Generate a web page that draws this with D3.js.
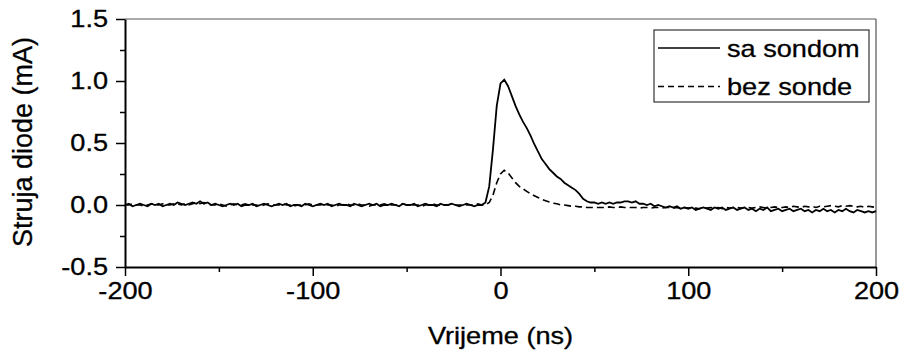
<!DOCTYPE html>
<html>
<head>
<meta charset="utf-8">
<script src="https://cdn.jsdelivr.net/npm/d3@7"></script>
<style>
  body { margin: 0; background: #fff; }
  text { font-family: "Liberation Sans", Arial, sans-serif; fill: #000; }
</style>
</head>
<body>
<div id="container"></div>
<script>
// sample times in ns, one reading every 2 ns
var times = d3.range(-200, 201, 2);

// sa sondom (mA)
var saSondom = [
  0.00, 0.01, -0.01, 0.00, 0.01, 0.00, -0.01, 0.01, 0.00, 0.01,
  -0.01, 0.00, 0.01, 0.00, 0.02, 0.01, 0.00, 0.01, 0.02, 0.01,
  0.03, 0.01, 0.02, 0.00, 0.01, 0.00, -0.01, 0.00, 0.01, 0.00,
  0.01, -0.01, 0.00, 0.00, 0.01, -0.01, 0.00, 0.01, 0.00, -0.01,
  0.00, 0.01, 0.00, 0.01, -0.01, 0.00, 0.00, -0.01, 0.01, 0.00,
  -0.01, 0.00, 0.01, 0.00, 0.01, -0.01, 0.00, 0.01, 0.00, 0.00,
  -0.01, 0.01, 0.00, -0.01, 0.00, 0.01, 0.00, 0.01, -0.01, 0.00,
  0.00, 0.01, 0.00, -0.01, 0.01, 0.00, 0.00, 0.01, -0.01, 0.00,
  0.01, 0.00, 0.00, -0.01, 0.01, 0.00, 0.00, 0.01, 0.00, -0.01,
  0.00, 0.01, 0.00, -0.01, 0.00, 0.00,
  0.02, 0.15, 0.45, 0.80, 0.98, 1.01, 0.96, 0.88, 0.80, 0.73,
  0.67, 0.62, 0.56, 0.49, 0.43, 0.37, 0.33, 0.29, 0.26, 0.23,
  0.21, 0.18, 0.16, 0.14, 0.12, 0.09, 0.05, 0.03, 0.02, 0.02,
  0.01, 0.02, 0.01, 0.02, 0.01, 0.02, 0.02, 0.03, 0.03, 0.02,
  0.03, 0.01, 0.01, 0.00, 0.01, -0.01, 0.00, -0.01, -0.02, -0.01,
  -0.02, -0.01, -0.03, -0.02, -0.03, -0.02, -0.04, -0.03, -0.02, -0.03,
  -0.04, -0.02, -0.03, -0.02, -0.04, -0.03, -0.02, -0.04, -0.03, -0.02,
  -0.04, -0.03, -0.05, -0.03, -0.04, -0.02, -0.05, -0.04, -0.03, -0.05,
  -0.04, -0.03, -0.05, -0.04, -0.03, -0.05, -0.04, -0.06, -0.04, -0.05,
  -0.03, -0.05, -0.04, -0.06, -0.04, -0.05, -0.03, -0.05, -0.06, -0.04,
  -0.05, -0.06, -0.05, -0.06, -0.05
];

// bez sonde (mA)
var bezSonde = [
  0.00, 0.00, 0.01, 0.00, 0.00, -0.01, 0.00, 0.01, 0.00, 0.00,
  0.01, 0.00, 0.00, 0.01, 0.01, 0.00, 0.01, 0.00, 0.01, 0.02,
  0.01, 0.02, 0.01, 0.00, 0.00, 0.01, 0.00, -0.01, 0.00, 0.01,
  0.00, 0.00, 0.01, 0.00, 0.00, 0.00, -0.01, 0.00, 0.01, 0.00,
  0.00, 0.00, 0.01, 0.00, 0.00, -0.01, 0.00, 0.00, 0.00, 0.01,
  0.00, 0.00, 0.00, 0.01, 0.00, 0.00, -0.01, 0.00, 0.00, 0.01,
  0.00, 0.00, 0.01, 0.00, 0.00, -0.01, 0.00, 0.00, 0.00, 0.01,
  0.00, 0.00, 0.00, 0.00, 0.01, 0.00, 0.00, 0.00, 0.00, -0.01,
  0.00, 0.00, 0.01, 0.00, 0.00, 0.00, 0.00, 0.01, 0.00, 0.00,
  0.00, 0.00, 0.00, 0.00, 0.01, 0.00,
  0.00, 0.02, 0.08, 0.18, 0.25, 0.28, 0.26, 0.22, 0.18, 0.15,
  0.13, 0.11, 0.09, 0.075, 0.06, 0.045, 0.035, 0.025, 0.015, 0.01,
  0.00, 0.00, -0.005, -0.01, -0.01, -0.015, -0.015, -0.02, -0.02, -0.02,
  -0.02, -0.02, -0.02, -0.015, -0.02, -0.02, -0.015, -0.02, -0.02, -0.02,
  -0.02, -0.025, -0.02, -0.02, -0.025, -0.02, -0.02, -0.025, -0.02, -0.02,
  -0.025, -0.02, -0.03, -0.02, -0.025, -0.02, -0.025, -0.03, -0.02, -0.025,
  -0.02, -0.025, -0.02, -0.03, -0.02, -0.025, -0.02, -0.02, -0.025, -0.02,
  -0.02, -0.025, -0.02, -0.015, -0.02, -0.025, -0.02, -0.015, -0.02, -0.02,
  -0.015, -0.02, -0.01, -0.015, -0.02, -0.01, -0.015, -0.01, -0.02, -0.01,
  -0.015, -0.01, -0.005, -0.01, -0.015, -0.005, -0.01, -0.005, -0.01, -0.015,
  -0.01, -0.02, -0.01, -0.015, -0.02
];

var xMajor = [-200, -100, 0, 100, 200],
    xMinor = [-150, -50, 50, 150],
    yMajor = [-0.5, 0, 0.5, 1.0, 1.5],
    yMinor = [-0.25, 0.25, 0.75, 1.25];

var seriesNames = ['sa sondom', 'bez sonde'];

var width = 901,
    height = 356,
    plotLeft = 125, plotRight = 876, plotTop = 19, plotBottom = 267,
    stretch = 1.18,   // text in the original is a bit wide
    fontSize = 23;

var svg = d3.select('#container')
    .append('svg')
    .attr('width', width)
    .attr('height', height);

var x = d3.scaleLinear().domain([-200, 200]).range([plotLeft, plotRight]);
var y = d3.scaleLinear().domain([-0.5, 1.5]).range([plotBottom, plotTop]);

// frame on top and right
svg.append('line')
    .attr('x1', plotLeft).attr('x2', plotRight).attr('y1', plotTop).attr('y2', plotTop)
    .attr('stroke', '#555').attr('stroke-width', 1.2);
svg.append('line')
    .attr('x1', plotRight).attr('x2', plotRight).attr('y1', plotTop).attr('y2', plotBottom)
    .attr('stroke', '#555').attr('stroke-width', 1.2);

// minor ticks
svg.append('g')
    .attr('transform', 'translate(0,' + plotBottom + ')')
    .call(d3.axisBottom(x).tickValues(xMinor).tickSize(5).tickFormat(''))
    .call(function(g) { g.select('.domain').remove(); })
    .selectAll('line').attr('stroke-width', 1.5);
svg.append('g')
    .attr('transform', 'translate(' + plotLeft + ',0)')
    .call(d3.axisLeft(y).tickValues(yMinor).tickSize(5).tickFormat(''))
    .call(function(g) { g.select('.domain').remove(); })
    .selectAll('line').attr('stroke-width', 1.5);

// major axes
var xAxis = svg.append('g')
    .attr('transform', 'translate(0,' + plotBottom + ')')
    .call(d3.axisBottom(x).tickValues(xMajor).tickSize(9).tickSizeOuter(0)
        .tickFormat(function(d) { return String(d); }));
xAxis.select('.domain').attr('stroke-width', 2);
xAxis.selectAll('.tick line').attr('stroke-width', 1.5);
xAxis.selectAll('.tick text')
    .attr('font-size', fontSize)
    .attr('font-family', '"Liberation Sans", Arial, sans-serif')
    .attr('fill', '#000')
    .attr('stroke', '#000').attr('stroke-width', 0.3)
    .attr('y', 32).attr('dy', 0)
    .attr('transform', 'scale(' + stretch + ',1)');

var yAxis = svg.append('g')
    .attr('transform', 'translate(' + plotLeft + ',0)')
    .call(d3.axisLeft(y).tickValues(yMajor).tickSize(9).tickSizeOuter(0)
        .tickFormat(function(d) { return d.toFixed(1); }));
yAxis.select('.domain').attr('stroke-width', 2);
yAxis.selectAll('.tick line').attr('stroke-width', 1.5);
yAxis.selectAll('.tick text')
    .attr('font-size', fontSize)
    .attr('font-family', '"Liberation Sans", Arial, sans-serif')
    .attr('fill', '#000')
    .attr('stroke', '#000').attr('stroke-width', 0.3)
    .attr('x', -17 / stretch)
    .attr('transform', 'scale(' + stretch + ',1)');

// axis titles
svg.append('text')
    .attr('transform', 'translate(' + (plotLeft + plotRight) / 2 + ',344) scale(' + stretch + ',1)')
    .attr('text-anchor', 'middle')
    .attr('font-size', fontSize)
    .attr('stroke', '#000').attr('stroke-width', 0.3)
    .text('Vrijeme (ns)');
svg.append('text')
    .attr('transform', 'translate(32,142) rotate(-90)')
    .attr('text-anchor', 'middle')
    .attr('font-size', 27)
    .attr('stroke', '#000').attr('stroke-width', 0.3)
    .text('Struja diode (mA)');

// curves
var line = d3.line()
    .x(function(d) { return x(d[0]); })
    .y(function(d) { return y(d[1]); });

svg.append('path')
    .datum(d3.zip(times, bezSonde))
    .attr('d', line)
    .attr('fill', 'none')
    .attr('stroke', '#000')
    .attr('stroke-width', 1.6)
    .attr('stroke-dasharray', '7,4');

svg.append('path')
    .datum(d3.zip(times, saSondom))
    .attr('d', line)
    .attr('fill', 'none')
    .attr('stroke', '#000')
    .attr('stroke-width', 1.8);

// legend
var legend = svg.append('g');
legend.append('rect')
    .attr('x', 654).attr('y', 30)
    .attr('width', 215).attr('height', 72)
    .attr('fill', '#fff')
    .attr('stroke', '#333').attr('stroke-width', 1.2);

var rows = legend.selectAll('g.row')
    .data(seriesNames)
    .enter()
    .append('g')
    .attr('class', 'row')
    .attr('transform', function(d, i) { return 'translate(0,' + (48 + i * 38.5) + ')'; });

rows.append('line')
    .attr('x1', 658).attr('x2', 720)
    .attr('stroke', '#000')
    .attr('stroke-width', 1.6)
    .attr('stroke-dasharray', function(d, i) { return i ? '6,4' : null; });

rows.append('text')
    .attr('transform', 'translate(727,8.5) scale(' + stretch + ',1)')
    .attr('font-size', fontSize)
    .attr('stroke', '#000').attr('stroke-width', 0.3)
    .text(function(d) { return d; });
</script>
</body>
</html>
